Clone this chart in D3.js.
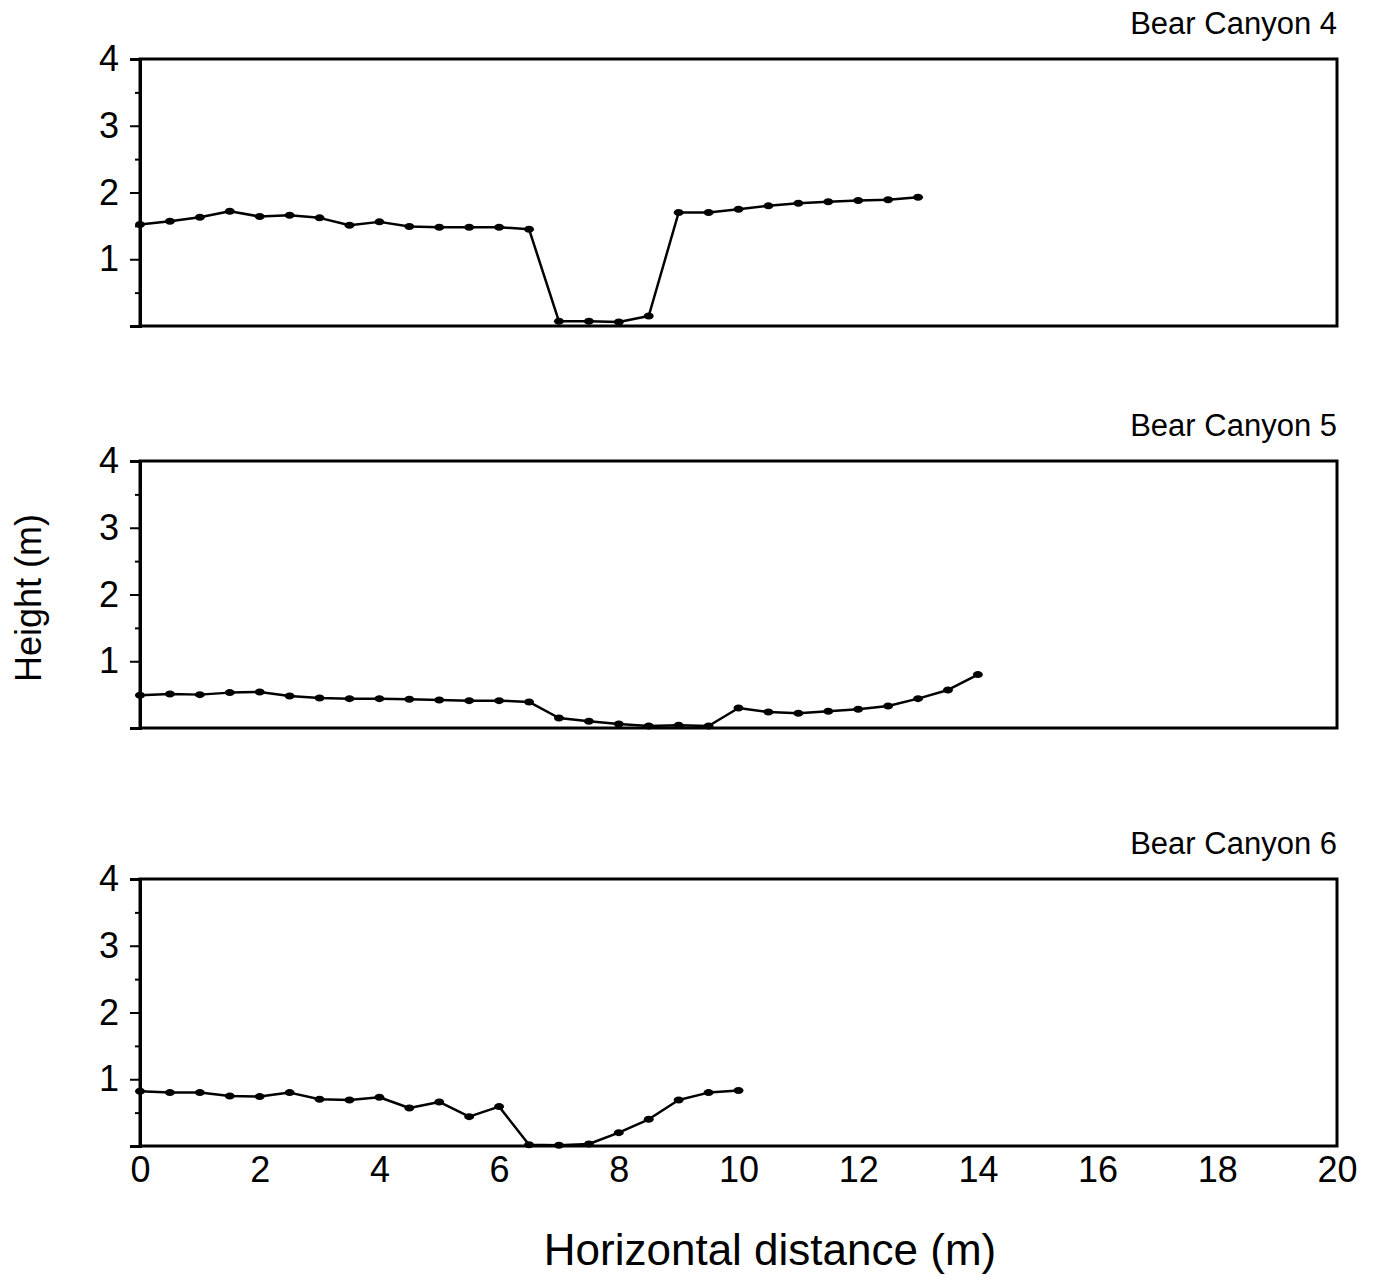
<!DOCTYPE html>
<html>
<head>
<meta charset="utf-8">
<script src="https://cdn.jsdelivr.net/npm/d3@7"></script>
<style>
  body { margin: 0; background: #fff; }
  svg { display: block; font-family: 'Liberation Sans', Arial, sans-serif; }
</style>
</head>
<body>
<svg width="1375" height="1284"></svg>
<script>
// transect distances (m) and heights (m)
const bc4Dist = [0, 0.5, 1, 1.5, 2, 2.5, 3, 3.5, 4, 4.5, 5, 5.5, 6, 6.5, 7, 7.5, 8, 8.5, 9, 9.5, 10, 10.5, 11, 11.5, 12, 12.5, 13]
const bc4Height = [1.52, 1.57, 1.63, 1.72, 1.64, 1.66, 1.62, 1.51, 1.56, 1.49, 1.48, 1.48, 1.48, 1.45, 0.07, 0.07, 0.06, 0.15, 1.7, 1.7, 1.75, 1.8, 1.84, 1.86, 1.88, 1.89, 1.93]

const bc5Dist = [0, 0.5, 1, 1.5, 2, 2.5, 3, 3.5, 4, 4.5, 5, 5.5, 6, 6.5, 7, 7.5, 8, 8.5, 9, 9.5, 10, 10.5, 11, 11.5, 12, 12.5, 13, 13.5, 14]
const bc5Height = [0.49, 0.51, 0.5, 0.53, 0.54, 0.48, 0.45, 0.44, 0.44, 0.43, 0.42, 0.41, 0.41, 0.39, 0.15, 0.1, 0.06, 0.03, 0.04, 0.03, 0.3, 0.24, 0.22, 0.25, 0.28, 0.33, 0.44, 0.57, 0.8]

const bc6Dist = [0, 0.5, 1, 1.5, 2, 2.5, 3, 3.5, 4, 4.5, 5, 5.5, 6, 6.5, 7, 7.5, 8, 8.5, 9, 9.5, 10]
const bc6Height = [0.82, 0.8, 0.8, 0.75, 0.74, 0.8, 0.7, 0.69, 0.73, 0.57, 0.66, 0.44, 0.59, 0.02, 0.01, 0.03, 0.2, 0.4, 0.69, 0.8, 0.83]

const titles = ['Bear Canyon 4', 'Bear Canyon 5', 'Bear Canyon 6']
const xTicks = [0, 2, 4, 6, 8, 10, 12, 14, 16, 18, 20]
const yTicks = [0, 1, 2, 3, 4]
const yMinorTicks = [0.5, 1.5, 2.5, 3.5]

const svg = d3.select('svg')
const font = "'Liberation Sans', Arial, sans-serif"
const panelTops = [59, 461, 879]
const panelHeight = 267

const x = d3.scaleLinear().domain([0, 20]).range([140, 1337])

const series = [
  { dist: bc4Dist, height: bc4Height },
  { dist: bc5Dist, height: bc5Height },
  { dist: bc6Dist, height: bc6Height },
]

series.forEach((s, i) => {
  const top = panelTops[i]
  const y = d3.scaleLinear().domain([0, 4]).range([top + panelHeight, top])
  const g = svg.append('g')

  // frame
  g.append('rect')
    .attr('x', x(0))
    .attr('y', y(4))
    .attr('width', x(20) - x(0))
    .attr('height', y(0) - y(4))
    .attr('fill', 'none')
    .attr('stroke', '#000')
    .attr('stroke-width', 3)

  const yAxis = g.append('g')
    .attr('transform', `translate(${x(0)},0)`)
    .call(d3.axisLeft(y).tickValues(yTicks).tickSize(10).tickPadding(11)
      .tickFormat((d) => (d === 0 ? '' : d)))
  yAxis.select('.domain').attr('stroke-width', 3)
  yAxis.selectAll('.tick line').attr('stroke-width', 2)
  yAxis.selectAll('.tick text')
    .attr('font-size', 36)
    .attr('font-family', font)
    .attr('fill', '#000')

  g.append('g')
    .attr('transform', `translate(${x(0)},0)`)
    .call(d3.axisLeft(y).tickValues(yMinorTicks).tickSize(5).tickFormat(''))
    .call((a) => a.select('.domain').remove())
    .selectAll('.tick line').attr('stroke-width', 2)

  if (i === 2) {
    const xAxis = g.append('g')
      .attr('transform', `translate(0,${y(0)})`)
      .call(d3.axisBottom(x).tickValues(xTicks).tickSize(0).tickPadding(10))
    xAxis.select('.domain').remove()
    xAxis.selectAll('.tick text')
      .attr('font-size', 36)
      .attr('font-family', font)
      .attr('fill', '#000')
  }

  g.append('text')
    .attr('x', x(20))
    .attr('y', top - 25)
    .attr('text-anchor', 'end')
    .attr('font-size', 31)
    .text(titles[i])

  const pts = s.dist.map((d, k) => [d, s.height[k]])
  const line = d3.line()
    .x((d) => x(d[0]))
    .y((d) => y(d[1]))

  g.append('path')
    .datum(pts)
    .attr('fill', 'none')
    .attr('stroke', '#000')
    .attr('stroke-width', 2.5)
    .attr('stroke-linejoin', 'round')
    .attr('d', line)

  g.selectAll('ellipse')
    .data(pts)
    .join('ellipse')
    .attr('cx', (d) => x(d[0]))
    .attr('cy', (d) => y(d[1]))
    .attr('rx', 5)
    .attr('ry', 3.5)
    .attr('fill', '#000')
})

svg.append('text')
  .attr('x', 770)
  .attr('y', 1265)
  .attr('text-anchor', 'middle')
  .attr('font-size', 44)
  .text('Horizontal distance (m)')

svg.append('text')
  .attr('transform', 'translate(41,598) rotate(-90)')
  .attr('text-anchor', 'middle')
  .attr('font-size', 36)
  .text('Height (m)')
</script>
</body>
</html>
